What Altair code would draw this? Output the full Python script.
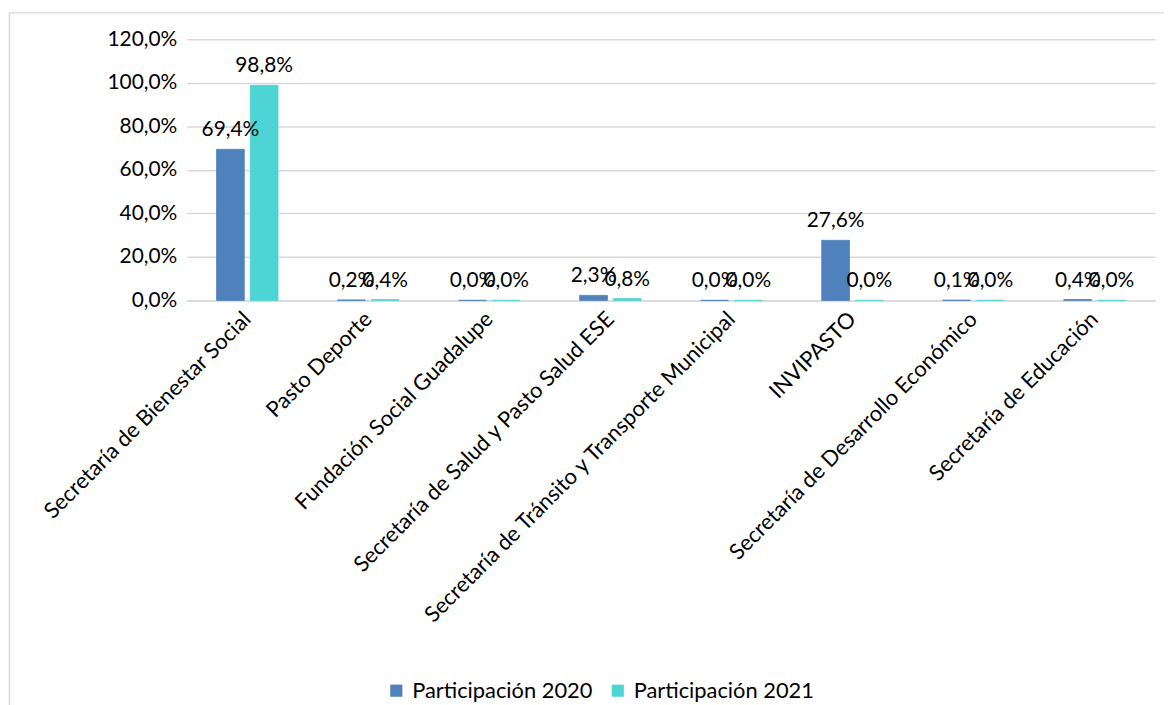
import altair as alt
import pandas as pd

categories = [
    "Secretaría de Bienestar Social",
    "Pasto Deporte",
    "Fundación Social Guadalupe",
    "Secretaría de Salud y Pasto Salud ESE",
    "Secretaría de Tránsito y Transporte Municipal",
    "INVIPASTO",
    "Secretaría de Desarrollo Económico",
    "Secretaría de Educación",
]
series = ["Participación 2020", "Participación 2021"]
part_2020 = [0.694, 0.002, 0.0002, 0.023, 0.0002, 0.276, 0.001, 0.004]
part_2021 = [0.988, 0.004, 0.0002, 0.008, 0.0002, 0.0002, 0.0002, 0.0002]
colors = ["#4F81BD", "#4DD5D5"]

rows = []
for i, c in enumerate(categories):
    rows.append({"cat": c, "serie": series[0], "val": part_2020[i]})
    rows.append({"cat": c, "serie": series[1], "val": part_2021[i]})
df = pd.DataFrame(rows)

FONT = "Lato"
W, H = 975, 263

x = alt.X("cat:N", sort=categories, title=None,
          scale=alt.Scale(paddingInner=0.492, paddingOuter=0.246),
          axis=alt.Axis(labelAngle=-45, labelFontSize=22, labelFont=FONT, labelColor="#000000",
                        labelAlign="right", labelBaseline="middle",
                        ticks=False, domainColor="#d9d9d9", domainWidth=1.5, labelPadding=15,
                        labelLimit=600))
xo = alt.XOffset("serie:N", sort=series, scale=alt.Scale(paddingInner=0.176, paddingOuter=0))
y = alt.Y("val:Q", title=None,
          scale=alt.Scale(domain=[0, 1.2], nice=False),
          axis=alt.Axis(format=".1%", values=[0, 0.2, 0.4, 0.6, 0.8, 1.0, 1.2],
                        labelFontSize=21, labelFont=FONT, labelColor="#000000",
                        ticks=False, domain=False, labelPadding=10,
                        gridColor="#d9d9d9", gridWidth=1.5))
color = alt.Color("serie:N", sort=series, title=None,
                  scale=alt.Scale(domain=series, range=colors),
                  legend=alt.Legend(orient="none", legendX=200, legendY=645, direction="horizontal",
                                    labelFontSize=22, labelFont=FONT, labelColor="#000000",
                                    labelLimit=400,
                                    symbolType="square", symbolSize=150, symbolStrokeWidth=0,
                                    columnPadding=14, labelOffset=5))

base = alt.Chart(df)
bars = base.mark_bar(strokeWidth=0.8).encode(x=x, xOffset=xo, y=y, color=color,
                                             stroke=alt.Stroke("serie:N", sort=series,
                                                               scale=alt.Scale(domain=series, range=colors),
                                                               legend=None))
labels = base.mark_text(fontSize=21, font=FONT, color="#000000", baseline="alphabetic", dy=-13).encode(
    x=x, xOffset=xo, y=y, text=alt.Text("val:Q", format=".1%"))

frame = alt.Chart(pd.DataFrame({"k": [0]})).mark_rect(
    fill=None, stroke="#d9d9d9", strokeWidth=1.5
).encode(x=alt.value(-178.5), x2=alt.value(W + 40), y=alt.value(-26.5), y2=alt.value(H + 500))

chart = alt.layer(frame, bars, labels).properties(
    width=W, height=H,
    autosize=alt.AutoSizeParams(type="none"),
    padding={"left": 180, "top": 29, "right": 9, "bottom": 405},
).configure(
    locale=alt.Locale(number=alt.NumberLocale(decimal=",", thousands=".", grouping=[3],
                                              currency=["", " €"]))
).configure_view(stroke=None)

chart.save("out.html", embed_options={"renderer": "svg", "actions": False})
